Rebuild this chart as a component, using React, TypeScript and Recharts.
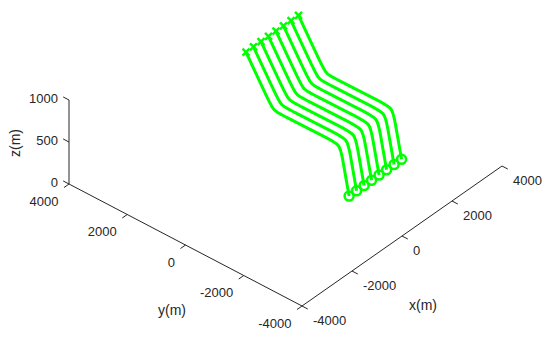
import { ComposedChart, Line, Scatter, XAxis, YAxis } from "recharts";

// eight parallel paths, offset along x; each path shares the same (y, z) corner points
const PATH_X = [400, 700, 1000, 1300, 1600, 1900, 2200, 2500];
const PATH_Y = [-1840, -1600, -1530, -1080, 530, 770, 1050, 1700];
const PATH_Z = [0, 430, 555, 553, 547, 545, 705, 1072];

const X_TICKS = [-4000, -2000, 0, 2000, 4000];
const Y_TICKS = [-4000, -2000, 0, 2000, 4000];
const Z_TICKS = [0, 500, 1000];

const X_LIM = [-4000, 4000];
const Y_LIM = [-4000, 4000];
const Z_LIM = [0, 1000];

const GREEN = "#00ff00";
const INK = "#262626";
const FONT = "'Liberation Sans', Arial, sans-serif";
const TICK_LEN = 200;

// fixed view projection (azimuth/elevation of the 3-D axes), in pixels
function project(x: number, y: number, z: number) {
  return {
    u: 0.025 * x - 0.029125 * y,
    v: 0.0175 * x + 0.01525 * y + 0.084 * z,
  };
}

type Seg = [number, number, number][];

const axisSegs: Seg[] = [
  [[X_LIM[0], Y_LIM[0], 0], [X_LIM[1], Y_LIM[0], 0]],
  [[X_LIM[0], Y_LIM[0], 0], [X_LIM[0], Y_LIM[1], 0]],
  [[X_LIM[0], Y_LIM[1], Z_LIM[0]], [X_LIM[0], Y_LIM[1], Z_LIM[1]]],
  ...X_TICKS.map((t): Seg => [[t, Y_LIM[0], 0], [t, Y_LIM[0] - TICK_LEN, 0]]),
  ...Y_TICKS.map((t): Seg => [[X_LIM[0], t, 0], [X_LIM[0] - TICK_LEN, t, 0]]),
  ...Z_TICKS.map((t): Seg => [[X_LIM[0], Y_LIM[1], t], [X_LIM[0], Y_LIM[1] + TICK_LEN, t]]),
];

const paths = PATH_X.map((x) => PATH_Y.map((y, i) => project(x, y, PATH_Z[i])));

const xLabels = X_TICKS.map((t) => ({ ...project(t, Y_LIM[0], 0), text: String(t) }));
const yLabels = Y_TICKS.map((t) => ({ ...project(X_LIM[0], t, 0), text: String(t) }));
const zLabels = Z_TICKS.map((t) => ({ ...project(X_LIM[0], Y_LIM[1], t), text: String(t) }));

const xTitle = [{ ...project(0, Y_LIM[0], 0), text: "x(m)" }];
const yTitle = [{ ...project(X_LIM[0], 0, 0), text: "y(m)" }];
const zTitle = [{ ...project(X_LIM[0], Y_LIM[1], 500), text: "z(m)" }];

function textShape(dx: number, dy: number, anchor: "start" | "middle" | "end", size = 13, rotate = 0) {
  return (props: any) => {
    const { cx, cy, payload } = props;
    const x = cx + dx;
    const y = cy + dy;
    return (
      <text
        x={x}
        y={y}
        textAnchor={anchor}
        dominantBaseline="central"
        fontSize={size}
        fontFamily={FONT}
        fill={INK}
        transform={rotate ? `rotate(${rotate} ${x} ${y})` : undefined}
      >
        {payload.text}
      </text>
    );
  };
}

function markers(last: number) {
  return (props: any) => {
    const { cx, cy, index } = props;
    if (index === 0) {
      return <circle key={`o${index}`} cx={cx} cy={cy} r={4.5} fill="none" stroke={GREEN} strokeWidth={2.5} />;
    }
    if (index === last) {
      const s = 3.5;
      return (
        <g key={`x${index}`} stroke={GREEN} strokeWidth={2.5}>
          <line x1={cx - s} y1={cy - s} x2={cx + s} y2={cy + s} />
          <line x1={cx - s} y1={cy + s} x2={cx + s} y2={cy - s} />
        </g>
      );
    }
    return <g key={`n${index}`} />;
  };
}

export default function App() {
  return (
    <div style={{ position: "absolute", left: 0, top: 0, background: "#fff" }}>
      <ComposedChart width={550} height={341} margin={{ top: 0, right: 0, bottom: 0, left: 0 }}>
        <XAxis type="number" dataKey="u" domain={[-285.5, 264.5]} hide allowDataOverflow />
        <YAxis type="number" dataKey="v" domain={[-166, 175]} hide allowDataOverflow />
        {axisSegs.map((seg, i) => (
          <Line
            key={`ax${i}`}
            data={seg.map((p) => project(p[0], p[1], p[2]))}
            dataKey="v"
            stroke={INK}
            strokeWidth={1}
            dot={false}
            activeDot={false}
            isAnimationActive={false}
          />
        ))}
        {paths.map((pts, i) => (
          <Line
            key={`p${i}`}
            data={pts}
            dataKey="v"
            type="basis"
            stroke={GREEN}
            strokeWidth={3}
            dot={markers(pts.length - 1)}
            activeDot={false}
            isAnimationActive={false}
          />
        ))}
        <Scatter data={xLabels} dataKey="v" shape={textShape(11, 14, "start")} isAnimationActive={false} />
        <Scatter data={yLabels} dataKey="v" shape={textShape(-10.5, 17, "end")} isAnimationActive={false} />
        <Scatter data={zLabels} dataKey="v" shape={textShape(-11, -2, "end")} isAnimationActive={false} />
        <Scatter data={xTitle} dataKey="v" shape={textShape(21, 69, "middle", 14)} isAnimationActive={false} />
        <Scatter data={yTitle} dataKey="v" shape={textShape(-13.5, 65, "middle", 14)} isAnimationActive={false} />
        <Scatter data={zTitle} dataKey="v" shape={textShape(-54, 1, "middle", 14, -90)} isAnimationActive={false} />
      </ComposedChart>
    </div>
  );
}
